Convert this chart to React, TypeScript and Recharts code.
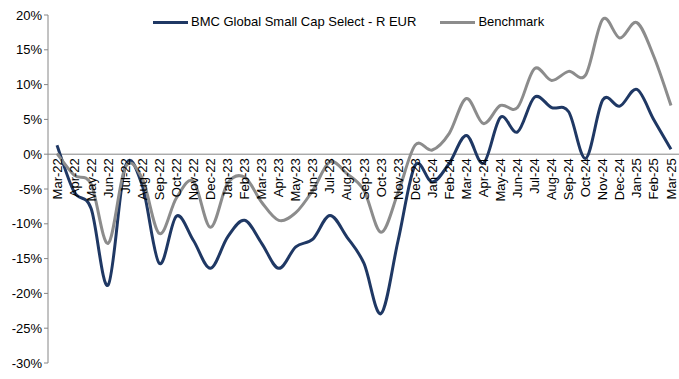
import React from 'react';
import { LineChart, Line, XAxis, YAxis, ReferenceLine } from 'recharts';

const months = [
  'Mar-22', 'Apr-22', 'May-22', 'Jun-22', 'Jul-22', 'Aug-22', 'Sep-22', 'Oct-22', 'Nov-22', 'Dec-22',
  'Jan-23', 'Feb-23', 'Mar-23', 'Apr-23', 'May-23', 'Jun-23', 'Jul-23', 'Aug-23', 'Sep-23', 'Oct-23',
  'Nov-23', 'Dec-23', 'Jan-24', 'Feb-24', 'Mar-24', 'Apr-24', 'May-24', 'Jun-24', 'Jul-24', 'Aug-24',
  'Sep-24', 'Oct-24', 'Nov-24', 'Dec-24', 'Jan-25', 'Feb-25', 'Mar-25',
];

const fund = [
  1.3, -5.4, -7.8, -18.8, -1.8, -4.5, -15.7, -8.9, -12.4, -16.4,
  -11.9, -9.5, -12.8, -16.4, -13.3, -12.2, -8.8, -11.9, -15.7, -22.9,
  -12.4, -1.6, -4.0, -1.3, 2.7, -1.3, 5.3, 3.2, 8.2, 6.7,
  6.1, -0.6, 7.8, 6.9, 9.3, 4.9, 0.7,
];

const benchmark = [
  0.1, -3.0, -4.3, -12.8, -1.9, -3.5, -11.4, -6.3, -3.9, -10.5,
  -4.2, -3.3, -6.9, -9.5, -8.4, -5.2, -1.1, -2.8, -5.2, -11.2,
  -5.5, 1.3, 0.6, 3.0, 8.0, 4.4, 7.0, 6.7, 12.3, 10.6,
  11.9, 11.4, 19.4, 16.7, 18.9, 14.0, 7.0,
];

const yTicks = [-30, -25, -20, -15, -10, -5, 0, 5, 10, 15, 20];

const seriesNames = ['BMC Global Small Cap Select - R EUR', 'Benchmark'];

const data = months.map((m, i) => ({ month: m, fund: fund[i], benchmark: benchmark[i] }));

const FONT = '"Liberation Sans", Arial, sans-serif';
const NAVY = '#1F3864';
const GREY = '#8C8C8C';
const AXIS = '#868686';

const TOP = 15;
const PLOT_H = 348;
const ZERO_Y = TOP + (PLOT_H * 20) / 50;

// Excel-style smoothing (Catmull-Rom through every point)
const excelCurve = (context: any) => {
  let pts: number[][] = [];
  return {
    areaStart() {},
    areaEnd() {},
    lineStart() {
      pts = [];
    },
    point(x: number, y: number) {
      pts.push([+x, +y]);
    },
    lineEnd() {
      if (!pts.length) return;
      context.moveTo(pts[0][0], pts[0][1]);
      for (let i = 0; i < pts.length - 1; i++) {
        const p0 = pts[i - 1] || pts[i];
        const p1 = pts[i];
        const p2 = pts[i + 1];
        const p3 = pts[i + 2] || pts[i + 1];
        context.bezierCurveTo(
          p1[0] + (p2[0] - p0[0]) / 6,
          p1[1] + (p2[1] - p0[1]) / 6,
          p2[0] - (p3[0] - p1[0]) / 6,
          p2[1] - (p3[1] - p1[1]) / 6,
          p2[0],
          p2[1],
        );
      }
    },
  };
};

const renderMonthTick = (props: any) => {
  const { x, payload, index } = props;
  const y = ZERO_Y + 4;
  return (
    <text
      key={`t-${index}`}
      x={x}
      y={y}
      dy="0.35em"
      textAnchor="end"
      transform={`rotate(-90, ${x}, ${y})`}
      fontSize={13}
      fontFamily={FONT}
      fill="#000"
    >
      {payload.value}
    </text>
  );
};

const LegendBox = () => (
  <div
    style={{
      position: 'absolute',
      top: 14,
      left: 153,
      display: 'flex',
      fontFamily: FONT,
      fontSize: 13,
      color: '#000',
      lineHeight: '16px',
    }}
  >
    {seriesNames.map((name, i) => (
      <div key={name} style={{ display: 'flex', alignItems: 'center', marginRight: i === 0 ? 24 : 0 }}>
        <span
          style={{ width: 35, height: 3, background: i === 0 ? NAVY : GREY, display: 'inline-block', marginRight: 3 }}
        />
        <span>{name}</span>
      </div>
    ))}
  </div>
);

export default function App() {
  return (
    <div style={{ position: 'absolute', left: 0, top: 0, width: 679, height: 379, background: '#fff' }}>
      <LineChart width={679} height={379} data={data} margin={{ top: TOP, right: 0, bottom: 0, left: 0 }}>
        <XAxis
          dataKey="month"
          axisLine={false}
          tickLine={false}
          tickSize={0}
          tickMargin={0}
          height={16}
          interval={0}
          padding={{ left: 9, right: 8 }}
          tick={renderMonthTick}
        />
        <YAxis
          domain={[-30, 20]}
          ticks={yTicks}
          width={48}
          tickFormatter={(v: number) => `${v}%`}
          axisLine={{ stroke: AXIS }}
          tickLine={{ stroke: AXIS }}
          tickSize={4}
          tickMargin={2}
          tick={{ fontSize: 13, fontFamily: FONT, fill: '#000' }}
          interval={0}
        />
        <ReferenceLine y={0} stroke={AXIS} strokeWidth={1} />
        <Line
          dataKey="fund"
          name={seriesNames[0]}
          type={excelCurve as any}
          stroke={NAVY}
          strokeWidth={3}
          dot={false}
          activeDot={false}
          isAnimationActive={false}
        />
        <Line
          dataKey="benchmark"
          name={seriesNames[1]}
          type={excelCurve as any}
          stroke={GREY}
          strokeWidth={3}
          dot={false}
          activeDot={false}
          isAnimationActive={false}
        />
      </LineChart>
      <LegendBox />
    </div>
  );
}
